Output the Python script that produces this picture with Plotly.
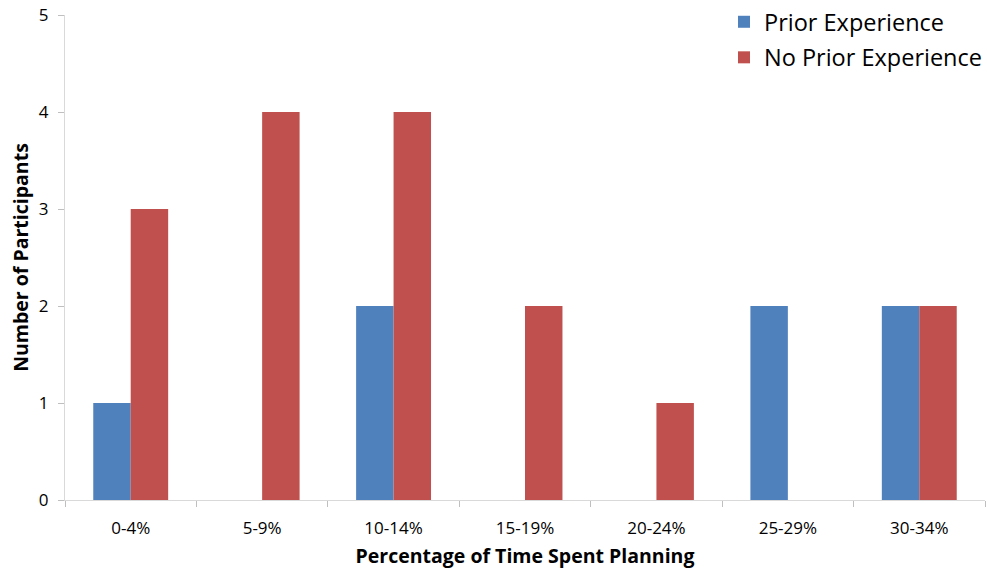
import plotly.graph_objects as go

categories = ["0-4%", "5-9%", "10-14%", "15-19%", "20-24%", "25-29%", "30-34%"]
prior = [1, 0, 2, 0, 0, 2, 2]
no_prior = [3, 4, 4, 2, 1, 0, 2]

FONT = "Open Sans, DejaVu Sans, sans-serif"

fig = go.Figure()
fig.add_trace(go.Bar(x=categories, y=prior, name="Prior Experience", legendgroup="a",
                     marker=dict(color="#4F81BD", line=dict(width=0))))
fig.add_trace(go.Bar(x=categories, y=no_prior, name="No Prior Experience", legendgroup="b",
                     marker=dict(color="#C0504D", line=dict(width=0))))

fig.update_layout(
    width=987, height=569,
    margin=dict(l=65, r=2, t=15, b=69, autoexpand=False),
    paper_bgcolor="white", plot_bgcolor="white",
    barmode="group", bargap=0.43, bargroupgap=0,
    font=dict(family=FONT, color="#000000"),
    legend=dict(xref="container", yref="container", x=1.0, xanchor="right",
                y=1.0, yanchor="top",
                font=dict(size=23.5, family=FONT), bgcolor="rgba(0,0,0,0)",
                itemwidth=30, traceorder="grouped", tracegroupgap=2),
    showlegend=True,
)
fig.update_xaxes(
    type="category", tickson="boundaries", ticks="outside", ticklen=6,
    tickcolor="#BFBFBF", showline=True, linecolor="#D9D9D9", linewidth=1,
    showgrid=False, tickfont=dict(size=17, family=FONT), ticklabelstandoff=13,
    title=dict(text="<b>Percentage of Time Spent Planning</b>",
               font=dict(size=19.5, family=FONT), standoff=12),
)
fig.update_yaxes(
    range=[0, 5], dtick=1, ticks="outside", ticklen=6, tickcolor="#BFBFBF",
    showline=True, linecolor="#D9D9D9", linewidth=1, showgrid=False,
    zeroline=False, tickfont=dict(size=17, family=FONT), ticklabelstandoff=6,
    title=dict(text="<b>Number of Participants</b>",
               font=dict(size=19.5, family=FONT), standoff=5),
)

fig.write_html("out.html")
